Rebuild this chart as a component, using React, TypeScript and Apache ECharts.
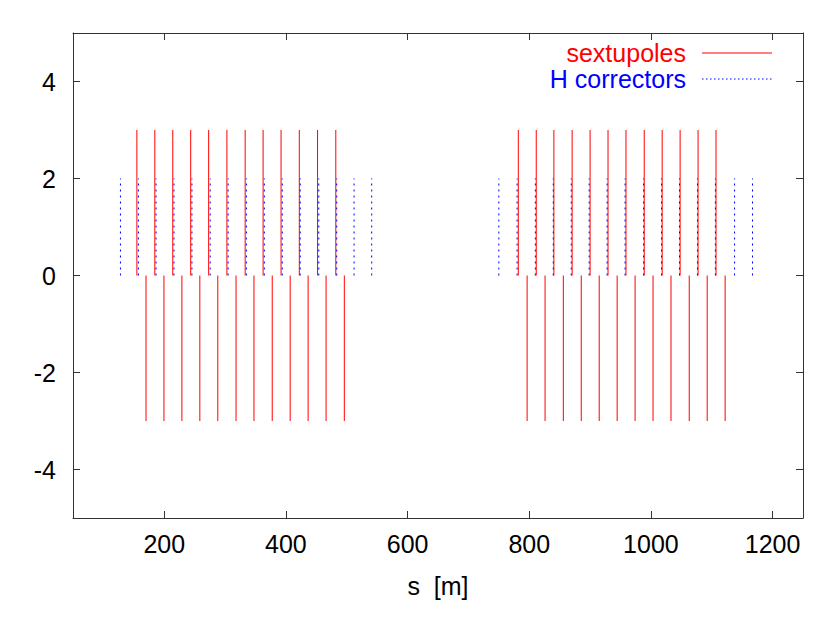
import React, { useEffect, useRef } from "react";
import * as echarts from "echarts";

// positions along the ring, s [m]
const sextFocusS = [155, 184.5, 214, 243.5, 273, 303, 333, 362.5, 392, 422, 452, 482, 782, 811.5, 840.5, 870.5, 900, 929.5, 959, 989, 1018.5, 1048, 1077.5, 1107];
const sextDefocusS = [170, 199.5, 229, 258.5, 288, 318, 347.5, 377.5, 407, 436.5, 466, 496, 796.5, 826, 856, 885.5, 915, 944.5, 974, 1003.5, 1033, 1063, 1092.5, 1122];
const hCorrS = [128, 157.5, 186.5, 216, 245.5, 275.5, 305, 335, 364.5, 394, 423.5, 454, 483.5, 512, 541, 750, 780, 810, 839.5, 869, 898.5, 928, 957.5, 988, 1017.5, 1047, 1076.5, 1106, 1137.5, 1167];
const sextFocusValue = 3;
const sextDefocusValue = -3;
const hCorrValue = 2;

const xTicks = [200, 400, 600, 800, 1000, 1200];
const yTicks = [-4, -2, 0, 2, 4];
const seriesNames = ["sextupoles", "H correctors"];

const FONT = '"Liberation Sans", Arial, Helvetica, sans-serif';
const RED = "#ff0000";
const BLUE = "#0000ff";

const sextData = [
  ...sextFocusS.map((s) => [s, sextFocusValue]),
  ...sextDefocusS.map((s) => [s, sextDefocusValue]),
];
const hCorrData = hCorrS.map((s) => [s, hCorrValue]);

function impulse(color: string, dash: number[] | null) {
  return (params: any, api: any) => {
    const x = api.value(0);
    const y = api.value(1);
    const p0 = api.coord([x, 0]);
    const p1 = api.coord([x, y]);
    const style: any = { stroke: color, lineWidth: 1, fill: null };
    if (dash) style.lineDash = dash;
    return {
      type: "line",
      shape: { x1: p0[0], y1: p0[1], x2: p1[0], y2: p1[1] },
      style,
    };
  };
}

export default function App() {
  const ref = useRef<HTMLDivElement>(null);
  useEffect(() => {
    document.body.style.margin = "0";
    const chart = echarts.init(ref.current!, null, { renderer: "svg" });
    const axisLineStyle = { color: "#333", width: 1 };
    const fmt = (v: number) => String(v);
    const xBase = {
      type: "value",
      min: 50,
      max: 1250,
      splitLine: { show: false },
      axisLine: { show: true, onZero: false, lineStyle: axisLineStyle },
      axisTick: { show: true, inside: true, length: 7, customValues: xTicks, lineStyle: axisLineStyle },
    };
    const yBase = {
      type: "value",
      min: -5,
      max: 5,
      splitLine: { show: false },
      axisLine: { show: true, onZero: false, lineStyle: axisLineStyle },
      axisTick: { show: true, inside: true, length: 7, customValues: yTicks, lineStyle: axisLineStyle },
    };
    chart.setOption({
      animation: false,
      backgroundColor: "#ffffff",
      grid: { left: 73, right: 37, top: 33, bottom: 109 },
      xAxis: [
        {
          ...xBase,
          position: "bottom",
          axisLabel: { customValues: xTicks, formatter: fmt, fontSize: 25, fontFamily: FONT, color: "#000", margin: 13 },
          name: "s  [m]",
          nameLocation: "middle",
          nameGap: 55,
          nameTextStyle: { fontSize: 25, fontFamily: FONT, color: "#000" },
        },
        { ...xBase, position: "top", axisLabel: { show: false } },
      ],
      yAxis: [
        {
          ...yBase,
          position: "left",
          axisLabel: { customValues: yTicks, formatter: fmt, fontSize: 25, fontFamily: FONT, color: "#000", margin: 17 },
        },
        { ...yBase, position: "right", axisLabel: { show: false } },
      ],
      series: [
        {
          type: "custom",
          name: seriesNames[0],
          xAxisIndex: 0,
          yAxisIndex: 0,
          renderItem: impulse(RED, null),
          data: sextData,
          clip: true,
        },
        {
          type: "custom",
          name: seriesNames[1],
          xAxisIndex: 0,
          yAxisIndex: 0,
          renderItem: impulse(BLUE, [2, 4]),
          data: hCorrData,
          clip: true,
        },
      ],
      graphic: [
        {
          type: "text",
          x: 686,
          y: 53,
          style: { text: seriesNames[0], font: `25px ${FONT}`, fill: RED, align: "right", verticalAlign: "middle" },
        },
        {
          type: "polyline",
          shape: { points: [[702, 53], [772, 53]] },
          style: { stroke: RED, lineWidth: 1, fill: null },
        },
        {
          type: "text",
          x: 686,
          y: 79,
          style: { text: seriesNames[1], font: `25px ${FONT}`, fill: BLUE, align: "right", verticalAlign: "middle" },
        },
        {
          type: "polyline",
          shape: { points: [[702, 79], [772, 79]] },
          style: { stroke: BLUE, lineWidth: 1, lineDash: [1.5, 2.5], fill: null },
        },
      ],
    });
    return () => chart.dispose();
  }, []);
  return <div ref={ref} style={{ width: 840, height: 627 }} />;
}
